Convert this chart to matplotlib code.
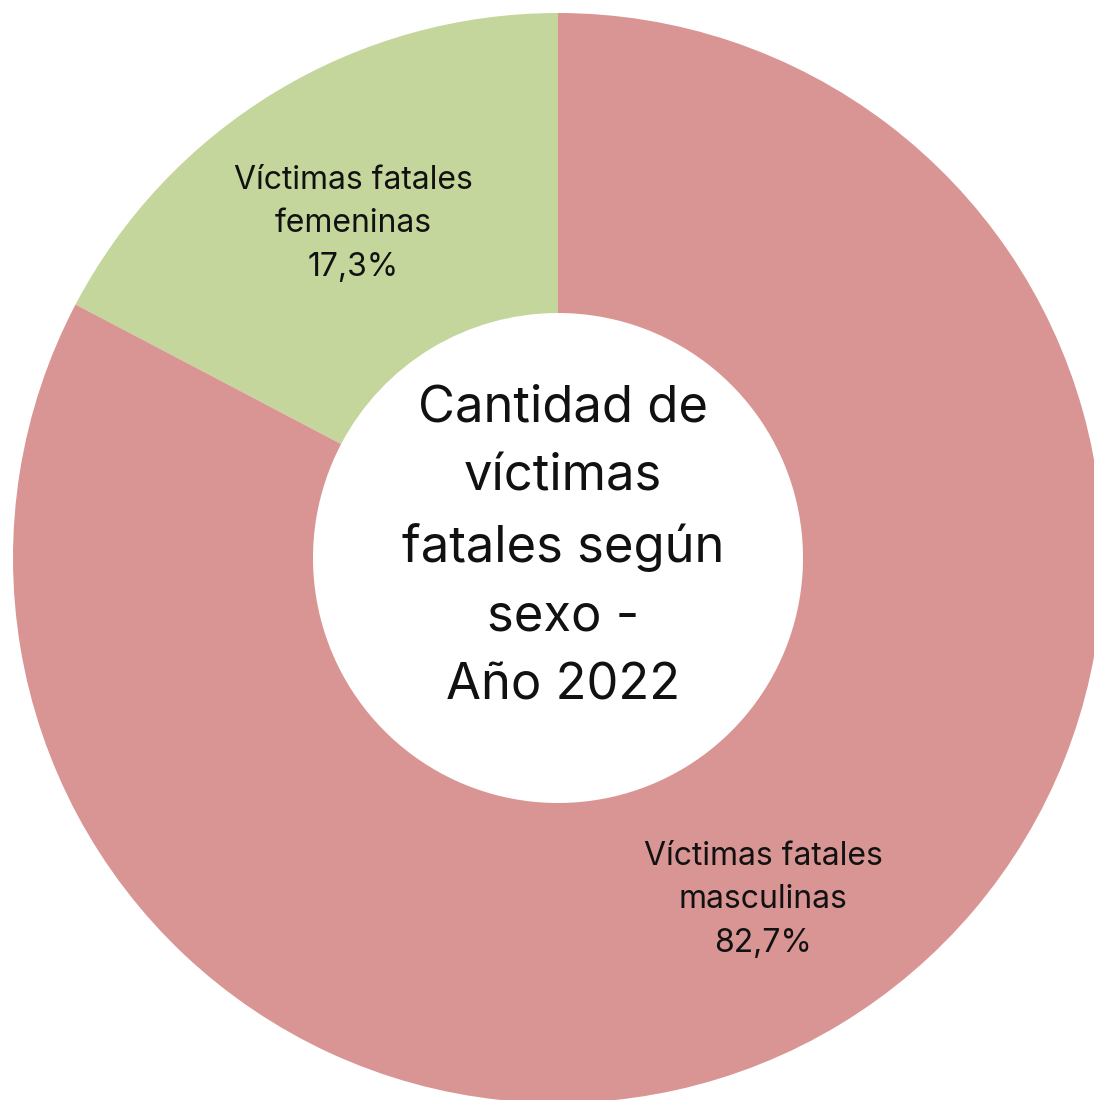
import matplotlib.pyplot as plt

labels = ["Víctimas fatales\nfemeninas\n17,3%", "Víctimas fatales\nmasculinas\n82,7%"]
shares = [17.3, 82.7]
colors = ["#C4D69B", "#D99594"]
center_title = "Cantidad de\nvíctimas\nfatales según\nsexo -\nAño 2022"

plt.rcParams['font.family'] = ['Inter', 'DejaVu Sans']

fig = plt.figure(figsize=(10.94, 11), dpi=100)
ax = fig.add_axes([0, 0, 1, 1])

cx, cy, r = 558, 1100 - 558, 545
ax.pie(shares, colors=colors, startangle=90, counterclock=True,
       center=(cx, cy), radius=r, wedgeprops=dict(width=r - 245, linewidth=0))

ax.text(353, 1100 - 224, labels[0], ha='center', va='center', fontsize=23, linespacing=1.54, color='#111111')
ax.text(763, 1100 - 900, labels[1], ha='center', va='center', fontsize=23, linespacing=1.54, color='#111111')
ax.text(cx + 5, 1100 - 547, center_title, ha='center', va='center', fontsize=36.5, linespacing=1.58,
        color='#111111')

ax.set_xlim(0, 1094)
ax.set_ylim(0, 1100)
ax.set_aspect('equal')
ax.axis('off')

fig.savefig("out.png", dpi=100)
